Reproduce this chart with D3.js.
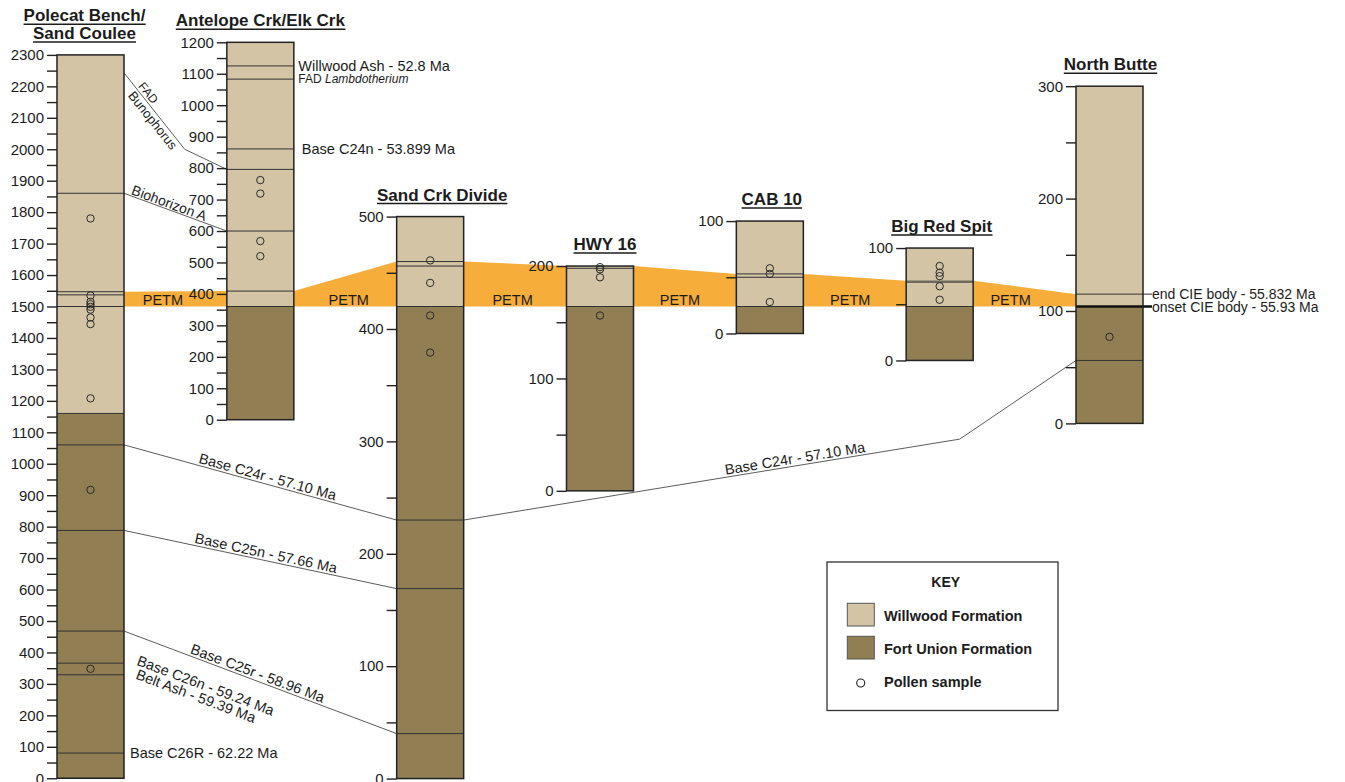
<!DOCTYPE html>
<html>
<head>
<meta charset="utf-8">
<script src="https://cdn.jsdelivr.net/npm/d3@7"></script>
<style>
  body { margin: 0; background: #fff; }
  svg { display: block; font-family: "Liberation Sans", Arial, sans-serif; }
</style>
</head>
<body>
<svg id="chart" width="1345" height="782"></svg>
<script>
// ---------------- Data ----------------
// Measured sections, west to east (thickness in metres)
const sections = ["Polecat Bench/\nSand Coulee", "Antelope Crk/Elk Crk", "Sand Crk Divide", "HWY 16", "CAB 10", "Big Red Spit", "North Butte"];
const sectionTop   = [2300, 1200, 500, 200, 100, 100, 300];
const willwoodBase = [1160, 360, 420, 164, 24, 48, 104];   // Fort Union / Willwood contact
const onsetCIE     = [1500, 360, 420, 164, 24, 48, 104];   // base of the PETM (onset of CIE body)
const petmTop      = [1547, 409, 460, 200, 53, 71, 115];   // top of the PETM interval
const tickInterval  = 50;
const labelInterval = 100;

// Horizons traced inside each section: [section, metre level, kind]
const horizons = [
  [0, 1860, "bed"], [0, 1547, "bed"], [0, 1537, "bed"], [0, 1500, "bed"], [0, 1160, "bed"],
  [0, 1060, "bed"], [0, 788, "bed"], [0, 468, "bed"], [0, 366, "bed"], [0, 329, "bed"], [0, 80, "bed"],
  [1, 1125, "bed"], [1, 1083, "bed"], [1, 861, "bed"], [1, 796, "bed"], [1, 600, "bed"], [1, 409, "bed"], [1, 360, "bed"],
  [2, 460, "bed"], [2, 456, "bed"], [2, 420, "bed"], [2, 230, "bed"], [2, 169, "bed"], [2, 40, "bed"],
  [3, 198, "bed"], [3, 164, "bed"],
  [4, 53, "bed"], [4, 50, "bed"], [4, 24, "bed"],
  [5, 70, "marker"], [5, 48, "bed"],
  [6, 115, "cie"], [6, 104, "onset"], [6, 56, "bed"]
];

// Pollen sample levels per section
const pollenSamples = [
  [1780, 1535, 1515, 1507, 1499, 1490, 1465, 1444, 1208, 917, 348],
  [762, 719, 568, 520],
  [461, 441, 412, 379],
  [199, 197, 190, 156],
  [58, 53, 28],
  [84, 78, 75, 66, 54],
  [77]
];

// Horizon labels written beside a section: [section, level, text, italic part]
const sideLabels = [
  [1, 1125, "Willwood Ash - 52.8 Ma", ""],
  [1, 1083, "FAD ", "Lambdotherium"],
  [1, 861, "Base C24n - 53.899 Ma", ""],
  [0, 80, "Base C26R - 62.22 Ma", ""],
  [6, 115, "end CIE body - 55.832 Ma", ""],
  [6, 104, "onset CIE body - 55.93 Ma", ""]
];
// Slanted horizon labels next to Polecat Bench
const slantLabels = [
  [0, 366, "Base C26n - 59.24 Ma"],
  [0, 329, "Belt Ash - 59.39 Ma"]
];

// Correlation lines between sections; a bend point lies a fraction t across a gap,
// at a level read on the scale of section s
const correlations = [
  { name: "FAD Bunophorus", pts: [{ s: 0, side: "R", m: 2243 }, { gap: [0, 1], t: 0.59, s: 0, m: 2000 }, { s: 1, side: "L", m: 796 }] },
  { name: "Biohorizon A",   pts: [{ s: 0, side: "R", m: 1860 }, { s: 1, side: "L", m: 600 }] },
  { name: "Base C24r - 57.10 Ma", pts: [{ s: 0, side: "R", m: 1060 }, { s: 2, side: "L", m: 230 }] },
  { name: "Base C24r - 57.10 Ma", pts: [{ s: 2, side: "R", m: 230 }, { gap: [2, 6], t: 0.81, s: 6, m: -14 }, { s: 6, side: "L", m: 56 }] },
  { name: "Base C25n - 57.66 Ma", pts: [{ s: 0, side: "R", m: 788 }, { s: 2, side: "L", m: 169 }] },
  { name: "Base C25r - 58.96 Ma", pts: [{ s: 0, side: "R", m: 468 }, { s: 2, side: "L", m: 40 }] }
];

// Text placed along correlation lines: [line index, text, size, distance along, offset from line]
const lineLabels = [
  [0, "FAD", 12, 19, 2.5],
  [0, "Bunophorus", 13, 20, -11.5],
  [1, "Biohorizon A", 14, 6.5, 1.5],
  [2, "Base C24r - 57.10 Ma", 14.5, 76, 2.5],
  [3, "Base C24r - 57.10 Ma", 14.5, 266, 2.5],
  [4, "Base C25n - 57.66 Ma", 14.5, 71, 2.5],
  [5, "Base C25r - 58.96 Ma", 14.5, 69, 2.5]
];

const legendItems = ["Willwood Formation", "Fort Union Formation", "Pollen sample"];

// ---------------- Layout & style ----------------
const colors = { willwood: "#d3c4a5", fortUnion: "#917e53", petm: "#f6ad3a", ink: "#1c1c1c", rule: "#333" };
const datumY = 306.5;           // level where the onset of the CIE body is aligned
const colW = 67;
const pxPerMetre = [0.3145, 0.3145, 1.124, 1.124, 1.124, 1.124, 1.124];
const titleDx = [-6, 0, 12, 5, 2, 2, 1];
const sideLabelDx = [4.5, 4.5, 8, 6, 9, 9];
const petmLabelDx = [-12.5, 3.5, -2.5, -5, -4.5, -14];

const svg = d3.select("#chart");
const xPos = d3.scaleLinear().domain([0, sections.length - 1]).range([57, 1076]);
const yScales = sections.map((s, i) => d3.scaleLinear()
  .domain([0, sectionTop[i]])
  .range([datumY + onsetCIE[i] * pxPerMetre[i], datumY - (sectionTop[i] - onsetCIE[i]) * pxPerMetre[i]]));

// ---------------- PETM band ----------------
const last = sections.length - 1;
const petmPts = [];
sections.forEach((s, i) => {
  const y = yScales[i](petmTop[i]);
  if (i > 0) petmPts.push([xPos(i), y]);
  if (i < last) petmPts.push([xPos(i) + colW, y]);
});
petmPts.push([xPos(last), yScales[last](onsetCIE[last])]);
petmPts.push([xPos(0) + colW, yScales[0](onsetCIE[0])]);
svg.append("path").attr("d", d3.line()(petmPts) + "Z").attr("fill", colors.petm);

// PETM labels in each gap
for (let i = 0; i < last; i++) {
  const mid = (xPos(i) + colW + xPos(i + 1)) / 2;
  svg.append("text").attr("x", mid + petmLabelDx[i]).attr("y", datumY - 1.5)
    .attr("text-anchor", "middle").attr("font-size", 14.5).attr("fill", colors.ink).text("PETM");
}

// ---------------- Correlation lines ----------------
function ptOf(p) {
  if (p.gap) {
    const a = xPos(p.gap[0]) + colW, b = xPos(p.gap[1]);
    return [a + (b - a) * p.t, yScales[p.s](p.m)];
  }
  return [p.side === "R" ? xPos(p.s) + colW : xPos(p.s), yScales[p.s](p.m)];
}
const corrPts = correlations.map(c => c.pts.map(ptOf));
svg.append("g").selectAll("path").data(corrPts).join("path")
  .attr("d", d => d3.line()(d)).attr("fill", "none")
  .attr("stroke", "#4a4a4a").attr("stroke-width", 0.9);

lineLabels.forEach(([ci, txt, size, along, off]) => {
  const p0 = corrPts[ci][0], p1 = corrPts[ci][1];
  const ang = Math.atan2(p1[1] - p0[1], p1[0] - p0[0]);
  const ux = Math.cos(ang), uy = Math.sin(ang);
  const nx = Math.sin(ang), ny = -Math.cos(ang);
  const px = p0[0] + ux * along + nx * off, py = p0[1] + uy * along + ny * off;
  svg.append("text").attr("transform", `translate(${px},${py}) rotate(${ang * 180 / Math.PI})`)
    .attr("font-size", size).attr("fill", colors.ink).text(txt);
});

// ---------------- Sections ----------------
sections.forEach((name, i) => {
  const y = yScales[i], x0 = xPos(i);
  const g = svg.append("g");
  g.append("rect").attr("x", x0).attr("width", colW)
    .attr("y", y(willwoodBase[i])).attr("height", y(0) - y(willwoodBase[i])).attr("fill", colors.fortUnion);
  g.append("rect").attr("x", x0).attr("width", colW)
    .attr("y", y(sectionTop[i])).attr("height", y(willwoodBase[i]) - y(sectionTop[i])).attr("fill", colors.willwood);

  horizons.filter(h => h[0] === i).forEach(([s, m, kind]) => {
    const ext = (kind === "cie" || kind === "onset") ? 9 : 0;
    g.append("line").attr("x1", x0).attr("x2", x0 + colW + ext)
      .attr("y1", y(m)).attr("y2", y(m))
      .attr("stroke", kind === "marker" ? "#6f6a5e" : (kind === "onset" ? "#111" : colors.rule))
      .attr("stroke-width", kind === "marker" ? 2.6 : (kind === "onset" ? 2.4 : 1));
  });

  g.append("rect").attr("x", x0).attr("width", colW)
    .attr("y", y(sectionTop[i])).attr("height", y(0) - y(sectionTop[i]))
    .attr("fill", "none").attr("stroke", "#222").attr("stroke-width", 1.5);

  // depth axis
  const axis = d3.axisLeft(y)
    .tickValues(d3.range(0, sectionTop[i] + 1, tickInterval))
    .tickSize(10).tickPadding(3)
    .tickFormat(d => d % labelInterval === 0 ? d : "");
  const ax = g.append("g").attr("transform", `translate(${x0},0)`).call(axis);
  ax.select(".domain").remove();
  ax.attr("font-family", null).attr("font-size", null);
  ax.selectAll("line").attr("stroke", "#222").attr("stroke-width", 1.4);
  ax.selectAll("text").attr("font-size", 15).attr("fill", colors.ink);

  // pollen samples
  g.selectAll("circle.pollen").data(pollenSamples[i]).join("circle")
    .attr("class", "pollen").attr("cx", x0 + colW / 2).attr("cy", d => y(d)).attr("r", 3.7)
    .attr("fill", "none").attr("stroke", "#2a2a2a").attr("stroke-width", 1);

  // title
  const lines = name.split("\n");
  const top = y(sectionTop[i]);
  lines.forEach((ln, k) => {
    const by = top - 16 - 17.6 * (lines.length - 1 - k);
    const t = svg.append("text").attr("x", x0 + colW / 2 + titleDx[i]).attr("y", by)
      .attr("text-anchor", "middle").attr("font-size", 17).attr("font-weight", "bold")
      .attr("fill", colors.ink).text(ln);
    const bb = t.node().getBBox();
    svg.append("line").attr("x1", bb.x).attr("x2", bb.x + bb.width)
      .attr("y1", by + 3).attr("y2", by + 3).attr("stroke", colors.ink).attr("stroke-width", 1.5);
  });
});

// ---------------- Horizon labels ----------------
sideLabels.forEach(([s, m, txt, ital], k) => {
  const big = !ital;
  const size = ital ? 12 : (s === 6 ? 14 : 14.5);
  const t = svg.append("text").attr("x", xPos(s) + colW + sideLabelDx[k]).attr("y", yScales[s](m) + size * 0.36)
    .attr("font-size", size).attr("fill", colors.ink);
  t.append("tspan").text(txt);
  if (ital) t.append("tspan").attr("font-style", "italic").text(ital);
});

const c25r = corrPts[5];
const slantDeg = Math.atan2(c25r[1][1] - c25r[0][1], c25r[1][0] - c25r[0][0]) * 180 / Math.PI;
slantLabels.forEach(([s, m, txt], k) => {
  const px = xPos(s) + colW + (k === 0 ? 12 : 11);
  const py = yScales[s](m) + (k === 0 ? 1.5 : 3.7);
  svg.append("text").attr("transform", `translate(${px},${py}) rotate(${slantDeg})`)
    .attr("font-size", 14.5).attr("fill", colors.ink).text(txt);
});

// ---------------- Key ----------------
const key = svg.append("g").attr("transform", "translate(827,562)");
key.append("rect").attr("width", 231).attr("height", 148.5)
  .attr("fill", "#fff").attr("stroke", "#333").attr("stroke-width", 1.3);
key.append("text").attr("x", 118.7).attr("y", 25.3).attr("text-anchor", "middle")
  .attr("font-size", 14).attr("font-weight", "bold").attr("fill", colors.ink).text("KEY");
const swatchFill = [colors.willwood, colors.fortUnion];
legendItems.forEach((lab, k) => {
  const rowY = 58.7 + k * 33;
  if (k < 2) {
    key.append("rect").attr("x", 20.3).attr("y", rowY - 17.4).attr("width", 27).attr("height", 22.7)
      .attr("fill", swatchFill[k]).attr("stroke", "#555").attr("stroke-width", 1);
  } else {
    key.append("circle").attr("cx", 33.7).attr("cy", rowY - 3.7).attr("r", 4)
      .attr("fill", "none").attr("stroke", "#222").attr("stroke-width", 1.1);
  }
  key.append("text").attr("x", 57).attr("y", rowY).attr("font-size", 14.5).attr("font-weight", "bold")
    .attr("fill", colors.ink).text(lab);
});
</script>
</body>
</html>
